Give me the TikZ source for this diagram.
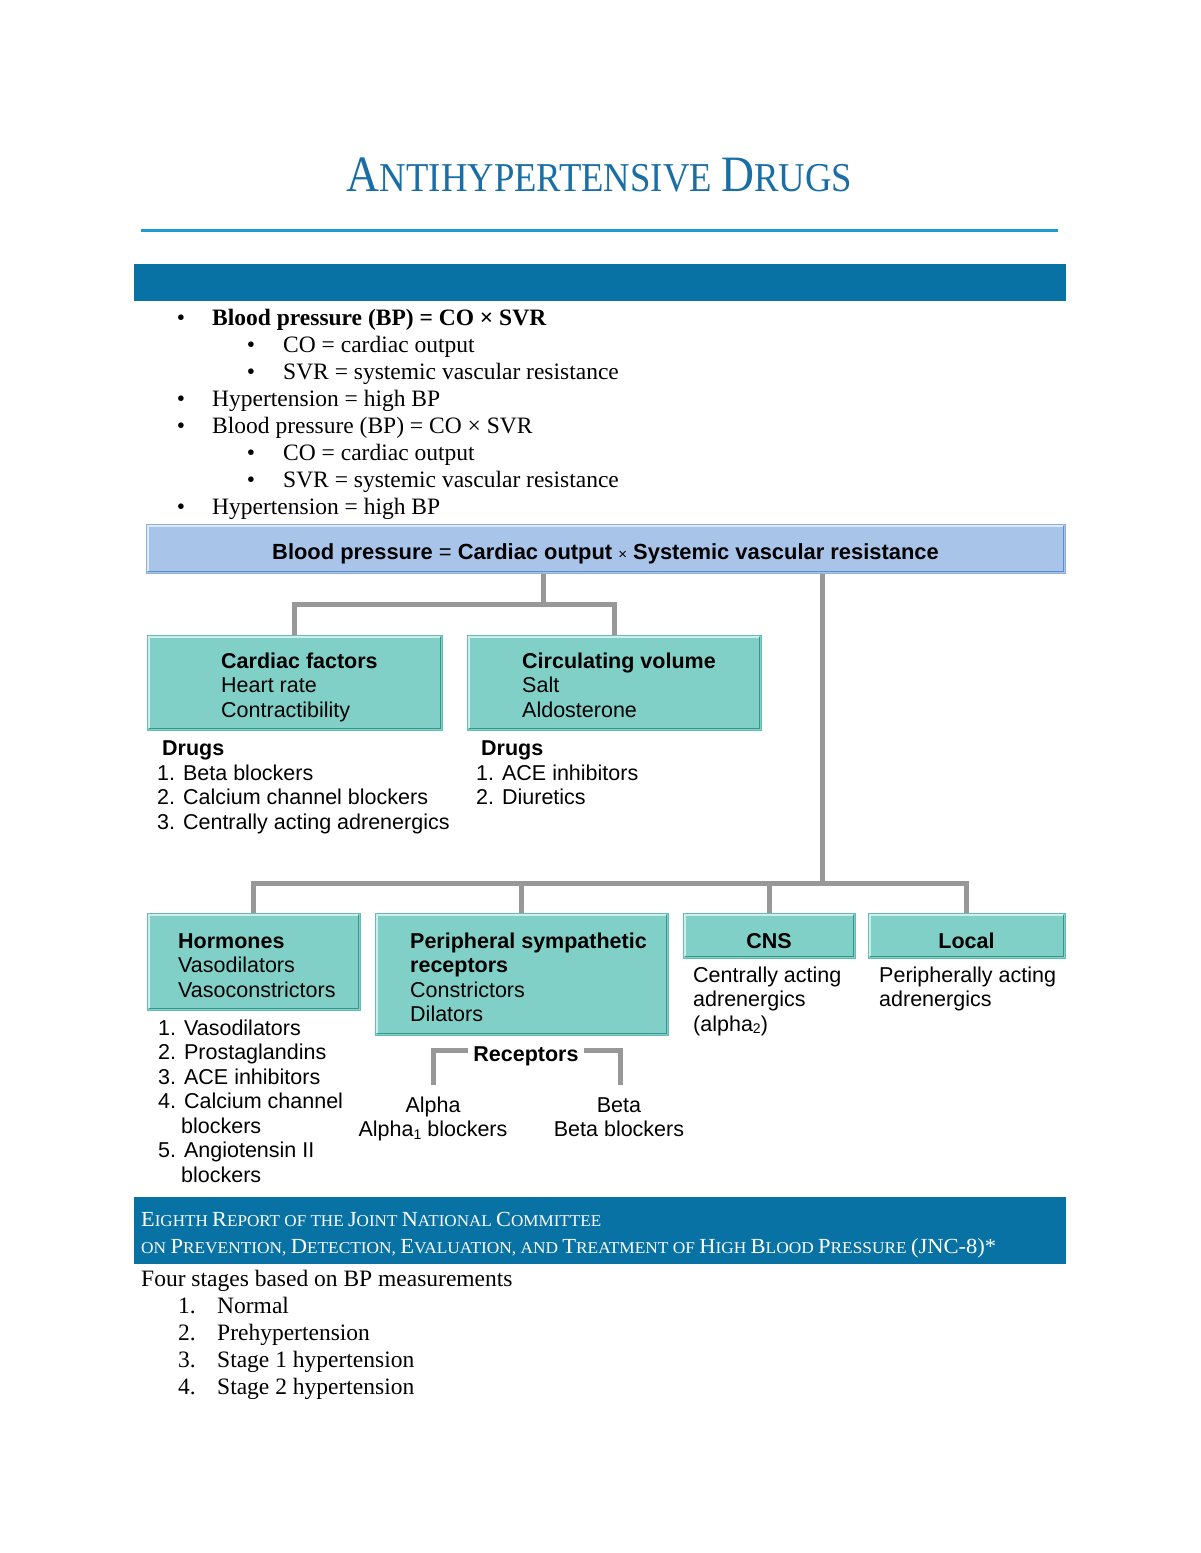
\documentclass[tikz,border=0pt]{standalone}
\usepackage{fontspec}
\usepackage{graphicx}
\setmainfont{Liberation Serif}
\setsansfont{Liberation Sans}
\definecolor{titleblue}{RGB}{25,110,165}
\definecolor{ruleblue}{RGB}{30,155,215}
\definecolor{barblue}{RGB}{8,114,164}
\definecolor{bpfill}{RGB}{169,196,233}
\definecolor{bpline}{RGB}{140,175,220}
\definecolor{bphi}{RGB}{222,234,250}
\definecolor{bplo}{RGB}{95,140,200}
\definecolor{tealfill}{RGB}{128,208,200}
\definecolor{tealline}{RGB}{100,190,180}
\definecolor{tealhi}{RGB}{205,238,234}
\definecolor{teallo}{RGB}{55,150,135}
\definecolor{conngray}{RGB}{152,152,152}
\newcommand{\tA}[1]{{\fontsize{51}{51}\selectfont #1}}
\newcommand{\tB}[1]{{\fontsize{41}{41}\selectfont #1}}
\newcommand{\rA}[1]{{\fontsize{21.5}{21.5}\selectfont #1}}
\newcommand{\rB}[1]{{\fontsize{16.5}{16.5}\selectfont #1}}
\newcommand{\lowsub}[1]{\raisebox{-0.25ex}{\fontsize{14}{14}\selectfont #1}}
\newcommand{\bevel}[3]{%
  \draw[#2, line width=1.5pt] ([shift={(2.5,-2.5)}]#1.south west) |- ([shift={(-2.5,2.5)}]#1.north east);
  \draw[#3, line width=1.5pt] ([shift={(2.5,-2)}]#1.south west) -| ([shift={(-2,2.5)}]#1.north east);}
\begin{document}
\begin{tikzpicture}[x=1pt,y=-1pt,
 ser/.style={font=\fontsize{23.5}{27}\selectfont, inner sep=0pt, anchor=base west},
 serb/.style={font=\bfseries\fontsize{23.5}{27}\selectfont, inner sep=0pt, anchor=base west},
 bul/.style={font=\fontsize{23.5}{27}\selectfont, inner sep=0pt, anchor=base},
 sans/.style={font=\sffamily\fontsize{21.5}{24.5}\selectfont, inner sep=0pt, anchor=base west},
 sansb/.style={font=\sffamily\bfseries\fontsize{21.5}{24.5}\selectfont, inner sep=0pt, anchor=base west},
 sansc/.style={font=\sffamily\fontsize{21.5}{24.5}\selectfont, inner sep=0pt, anchor=base},
 sansbc/.style={font=\sffamily\bfseries\fontsize{21.5}{24.5}\selectfont, inner sep=0pt, anchor=base},
 tealbox/.style={draw=tealline, fill=tealfill, line width=1pt, inner sep=0pt},
 conn/.style={draw=conngray, line width=5pt},
]
\useasboundingbox (0,0) rectangle (1200,1553);
\fill[white] (0,0) rectangle (1200,1553);

% title
\node[anchor=base, inner sep=0pt, text=titleblue] (title) at (599.5,191)
  {\resizebox{505pt}{\height}{\tA{A}\tB{NTIHYPERTENSIVE }\tA{D}\tB{RUGS}}};
\draw[ruleblue, line width=3pt] (141,230) -- (1058,230);

% top bar
\node[fill=barblue, anchor=north west, minimum width=932pt, minimum height=37pt, inner sep=0pt] (bar1) at (134,264) {};

% bullets
\node[bul] (d1) at (181,325) {•};
\node[serb] (t1) at (212,325) {Blood pressure (BP) = CO × SVR};
\node[bul] (d2) at (251,352) {•};
\node[ser] (t2) at (283,352) {CO = cardiac output};
\node[bul] (d3) at (251,379) {•};
\node[ser] (t3) at (283,379) {SVR = systemic vascular resistance};
\node[bul] (d4) at (181,406) {•};
\node[ser] (t4) at (212,406) {Hypertension = high BP};
\node[bul] (d5) at (181,433) {•};
\node[ser] (t5) at (212,433) {Blood pressure (BP) = CO × SVR};
\node[bul] (d6) at (251,460) {•};
\node[ser] (t6) at (283,460) {CO = cardiac output};
\node[bul] (d7) at (251,487) {•};
\node[ser] (t7) at (283,487) {SVR = systemic vascular resistance};
\node[bul] (d8) at (181,514) {•};
\node[ser] (t8) at (212,514) {Hypertension = high BP};

% BP box
\node[draw=bpline, fill=bpfill, line width=1pt, minimum width=919pt, minimum height=49pt, inner sep=0pt] (bp) at (605.5,548.5) {};
\bevel{bp}{bphi}{bplo}
\node[font=\sffamily\bfseries\fontsize{21.9}{24.5}\selectfont, inner sep=0pt, anchor=base] (bpt) at (605.5,559)
  {Blood pressure {\mdseries=} Cardiac output {\mdseries\fontsize{15}{15}\selectfont×} Systemic vascular resistance};

% level 1 boxes
\node[tealbox, minimum width=295pt, minimum height=95pt] (cf) at (294.5,682.5) {};
\node[tealbox, minimum width=294pt, minimum height=95pt] (cv) at (614,682.5) {};
\bevel{cf}{tealhi}{teallo}
\bevel{cv}{tealhi}{teallo}
\coordinate (j1) at (543,604);
\coordinate (j2) at (822,883);
\draw[conn] (bp.south -| j1) -- (j1);
\draw[conn] (cf.north) |- (j1) -| (cv.north);
\draw[conn] (bp.south -| j2) -- (j2);

\node[sansb] (cf1) at (221,668) {Cardiac factors};
\node[sans] (cf2) at (221,692.5) {Heart rate};
\node[sans] (cf3) at (221,717) {Contractibility};
\node[sansb] (cv1) at (522,668) {Circulating volume};
\node[sans] (cv2) at (522,692.5) {Salt};
\node[sans] (cv3) at (522,717) {Aldosterone};

\node[sansb] (dg1) at (162,755) {Drugs};
\node[sans] (dg2) at (157,780) {1. Beta blockers};
\node[sans] (dg3) at (157,804.5) {2. Calcium channel blockers};
\node[sans] (dg4) at (157,829) {3. Centrally acting adrenergics};
\node[sansb] (dh1) at (481,755) {Drugs};
\node[sans] (dh2) at (476,780) {1. ACE inhibitors};
\node[sans] (dh3) at (476,804.5) {2. Diuretics};

% level 2 boxes
\node[tealbox, minimum width=213pt, minimum height=97pt] (hm) at (253.5,961.5) {};
\node[tealbox, minimum width=293pt, minimum height=122pt] (ps) at (521.5,974) {};
\node[tealbox, minimum width=172pt, minimum height=45pt] (cn) at (769,935.5) {};
\node[tealbox, minimum width=197pt, minimum height=45pt] (lc) at (966.5,935.5) {};
\bevel{hm}{tealhi}{teallo}
\bevel{ps}{tealhi}{teallo}
\bevel{cn}{tealhi}{teallo}
\bevel{lc}{tealhi}{teallo}
\draw[conn] (hm.north) |- (j2) -| (lc.north);
\draw[conn] (ps.north) -- (ps.north |- j2);
\draw[conn] (cn.north) -- (cn.north |- j2);

\node[sansb] (hm1) at (178,948) {Hormones};
\node[sans] (hm2) at (178,972.5) {Vasodilators};
\node[sans] (hm3) at (178,997) {Vasoconstrictors};
\node[sansb] (ps1) at (410,948) {Peripheral sympathetic};
\node[sansb] (ps2) at (410,972.5) {receptors};
\node[sans] (ps3) at (410,997) {Constrictors};
\node[sans] (ps4) at (410,1021.5) {Dilators};
\node[sansbc] (cn1) at (769,948) {CNS};
\node[sansbc] (lc1) at (966.5,948) {Local};

\node[sans] (cn2) at (693,982) {Centrally acting};
\node[sans] (cn3) at (693,1006.5) {adrenergics};
\node[sans] (cn4) at (693,1031) {(alpha\lowsub{2})};
\node[sans] (lc2) at (879,982) {Peripherally acting};
\node[sans] (lc3) at (879,1006.5) {adrenergics};

\node[sans] (hl1) at (158,1035) {1. Vasodilators};
\node[sans] (hl2) at (158,1059.5) {2. Prostaglandins};
\node[sans] (hl3) at (158,1084) {3. ACE inhibitors};
\node[sans] (hl4) at (158,1108.5) {4. Calcium channel};
\node[sans] (hl5) at (181,1133) {blockers};
\node[sans] (hl6) at (158,1157.5) {5. Angiotensin II};
\node[sans] (hl7) at (181,1182) {blockers};

% receptors
\node[sansbc] (rc) at (526,1061) {Receptors};
\coordinate (ra) at (433,1085);
\coordinate (rb) at (620,1085);
\coordinate (rl) at (468,1050);
\coordinate (rr) at (584,1050);
\draw[conn] (ra) |- (rl);
\draw[conn] (rb) |- (rr);
\node[sansc] (al1) at (433,1112) {Alpha};
\node[sansc] (al2) at (433,1136.5) {Alpha\lowsub{1} blockers};
\node[sansc] (be1) at (619,1112) {Beta};
\node[sansc] (be2) at (619,1136.5) {Beta blockers};

% bottom bar
\node[fill=barblue, anchor=north west, minimum width=932pt, minimum height=67pt, inner sep=0pt] (bar2) at (134,1197) {};
\node[anchor=base west, inner sep=0pt, text=white] (r1) at (141,1226)
  {\resizebox{460pt}{\height}{\rA{E}\rB{IGHTH }\rA{R}\rB{EPORT OF THE }\rA{J}\rB{OINT }\rA{N}\rB{ATIONAL }\rA{C}\rB{OMMITTEE}}};
\node[anchor=base west, inner sep=0pt, text=white] (r2) at (141,1253)
  {\resizebox{855pt}{\height}{\rB{ON }\rA{P}\rB{REVENTION, }\rA{D}\rB{ETECTION, }\rA{E}\rB{VALUATION, AND }\rA{T}\rB{REATMENT OF }\rA{H}\rB{IGH }\rA{B}\rB{LOOD }\rA{P}\rB{RESSURE }\rA{(JNC-8)*}}};

% stages
\node[ser] (s0) at (141,1286) {Four stages based on BP measurements};
\node[ser] (n1) at (178,1313) {1.};
\node[ser] (s1) at (217,1313) {Normal};
\node[ser] (n2) at (178,1340) {2.};
\node[ser] (s2) at (217,1340) {Prehypertension};
\node[ser] (n3) at (178,1367) {3.};
\node[ser] (s3) at (217,1367) {Stage 1 hypertension};
\node[ser] (n4) at (178,1394) {4.};
\node[ser] (s4) at (217,1394) {Stage 2 hypertension};
\end{tikzpicture}
\end{document}
